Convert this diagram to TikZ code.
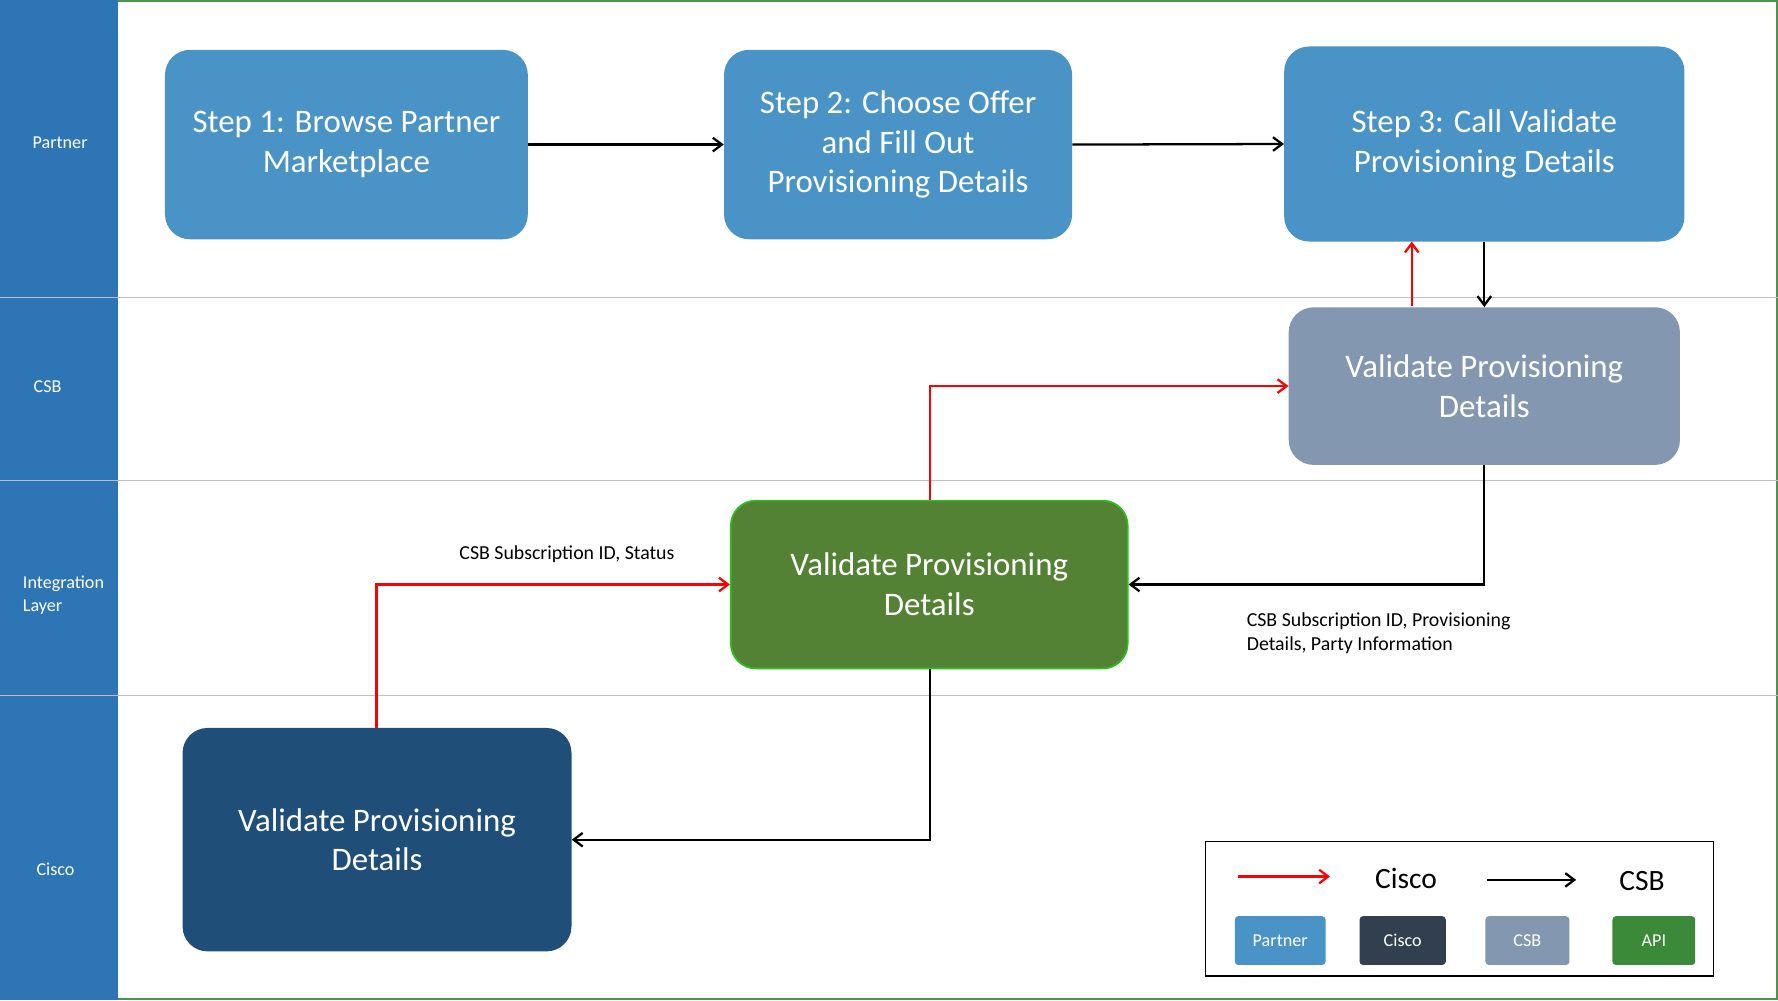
\documentclass[tikz,border=0pt]{standalone}
\usepackage{fontspec}
\setmainfont{Carlito}
\usetikzlibrary{arrows.meta}
\definecolor{lane}{HTML}{2E75B6}
\definecolor{pbox}{HTML}{4A93C6}
\definecolor{cbox}{HTML}{8497B0}
\definecolor{gbox}{HTML}{548235}
\definecolor{dbox}{HTML}{1F4E79}
\definecolor{kbox}{HTML}{323F4F}
\definecolor{abox}{HTML}{3A8A3A}
\begin{document}
\begin{tikzpicture}[x=1pt,y=-1pt,
 box/.style={draw=none,rounded corners=22pt,text=white,align=center,font=\fontsize{29}{35}\selectfont},
 ll/.style={text=white,font=\fontsize{16}{20}\selectfont,align=left},
 lbl/.style={font=\fontsize{17.5}{21}\selectfont,align=left},
 ar/.style={line width=2pt,-{Straight Barb[length=8pt,width=12pt]}},
 sw/.style={rounded corners=3pt,text=white,font=\fontsize{16}{17}\selectfont,minimum height=43pt}]
\useasboundingbox (0,0) rectangle (1568,882);
\fill[white] (0,0) rectangle (1568,882);
\draw[green!40!black!70,line width=2pt] (104,1) -- (1568,1);
\draw[green!40!black!70,line width=2pt] (104,881) -- (1568,881);
\draw[green!40!black!70,line width=1.5pt] (1567,0) -- (1567,882);
\fill[lane] (0,0) rectangle (104,882);
\foreach \y in {262,424,613} {\draw[gray!50,line width=1pt] (0,\y) -- (1568,\y);}
\node[ll] (lp) at (53,126) {Partner};
\node[ll] (lc) at (42,341) {CSB};
\node[ll] (li) at (56,525) {Integration\\Layer};
\node[ll] (lk) at (49,767) {Cisco};

\node[box,fill=pbox,minimum width=320pt,minimum height=167pt] (s1) at (305.5,127.5) {Step 1: Browse Partner\\Marketplace};
\node[box,fill=pbox,minimum width=307pt,minimum height=167pt] (s2) at (792,127.5) {Step 2: Choose Offer\\and Fill Out\\Provisioning Details};
\node[box,fill=pbox,minimum width=353pt,minimum height=172pt] (s3) at (1309,127) {Step 3: Call Validate\\Provisioning Details};
\node[box,fill=cbox,minimum width=345pt,minimum height=139pt] (cs) at (1309,340.5) {Validate Provisioning\\Details};
\node[box,fill=gbox,draw=green!50!gbox,line width=1.5pt,minimum width=350pt,minimum height=148pt] (in) at (819.5,515.5) {Validate Provisioning\\Details};
\node[box,fill=dbox,minimum width=343pt,minimum height=197pt] (ci) at (332.5,740.5) {Validate Provisioning\\Details};

\draw[ar] (s1.east) -- (s2.west);
\draw[ar] (s2.east) -- (s3.west);
\draw[ar] (s3.south -| cs.north) -- (cs.north);
\draw[ar,red] (1245,270) -- (1245,213);
\draw[ar,red] (820,441) |- (cs.west);
\draw[ar] (cs.south) |- (in.east);
\draw[ar,red] (332,642) |- (in.west);
\draw[ar] (820,590) |- (ci.east);
\node[lbl] (l1) at (500,489) {CSB Subscription ID, Status};
\node[lbl,anchor=north west] (l2) at (1096,537) {CSB Subscription ID, Provisioning\\Details, Party Information};

\node[draw=black,line width=1.5pt,minimum width=448pt,minimum height=119pt] (lg) at (1287,801.5) {};
\coordinate (a1) at (1092,773); \coordinate (a2) at (1173,773);
\draw[ar,red] (a1) -- (a2);
\node[font=\fontsize{26}{30}\selectfont] (tc) at (1240,775) {Cisco};
\coordinate (b1) at (1311,776); \coordinate (b2) at (1390,776);
\draw[ar] (b1) -- (b2);
\node[font=\fontsize{26}{30}\selectfont] (tb) at (1448,777) {CSB};
\node[sw,fill=pbox,minimum width=80pt] (w1) at (1129,829.5) {Partner};
\node[sw,fill=kbox,minimum width=76pt] (w2) at (1237,829.5) {Cisco};
\node[sw,fill=cbox,minimum width=74pt] (w3) at (1347,829.5) {CSB};
\node[sw,fill=abox,minimum width=73pt] (w4) at (1458.5,829.5) {API};
\end{tikzpicture}
\end{document}
